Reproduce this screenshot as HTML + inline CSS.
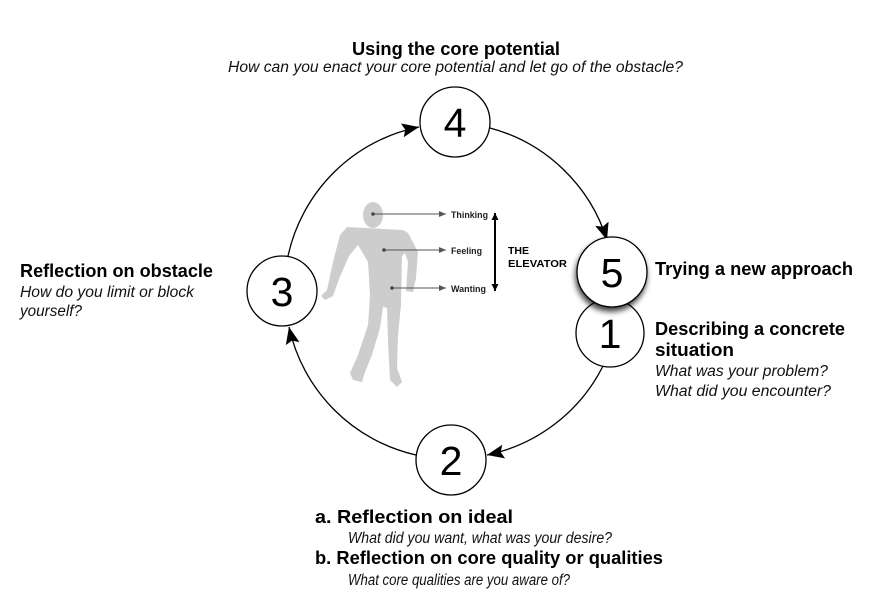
<!DOCTYPE html>
<html>
<head>
<meta charset="utf-8">
<style>
html,body{margin:0;padding:0;background:#fff;}
body{width:893px;height:604px;overflow:hidden;}
svg{display:block;}
text{font-family:"Liberation Sans",Arial,sans-serif;fill:#000;}
.b{font-weight:bold;font-size:18px;}
.i{font-style:italic;font-size:15.5px;fill:#111;}
.n{font-size:41px;}
.s{font-size:9.5px;font-weight:bold;fill:#222;}
.e{font-size:10px;font-weight:bold;fill:#000;}
</style>
</head>
<body>
<svg width="893" height="604" viewBox="0 0 893 604" xmlns="http://www.w3.org/2000/svg">
<defs>
<marker id="ah" markerUnits="userSpaceOnUse" markerWidth="20" markerHeight="16" refX="17" refY="7" orient="auto">
<path d="M0,0 L17,7 L0,14 L3,7 z" fill="#000"/>
</marker>
<marker id="sa" markerUnits="userSpaceOnUse" markerWidth="8" markerHeight="6" refX="7" refY="3" orient="auto">
<path d="M0,0 L7,3 L0,6 z" fill="#555"/>
</marker>
<marker id="ea" markerUnits="userSpaceOnUse" markerWidth="8" markerHeight="10" refX="7" refY="3.5" orient="auto">
<path d="M0,0 L7,3.5 L0,7 z" fill="#000"/>
</marker>
<filter id="sh" x="-40%" y="-40%" width="180%" height="180%">
<feDropShadow dx="-1" dy="4" stdDeviation="3" flood-color="#000" flood-opacity="0.75"/>
</filter>
</defs>

<!-- Arcs -->
<g fill="none" stroke="#000" stroke-width="1.3">
<path d="M288,256 A168,168 0 0 1 419,127" marker-end="url(#ah)"/>
<path d="M490,128 A168,168 0 0 1 607,240" marker-end="url(#ah)"/>
<path d="M603,366 A168,168 0 0 1 487,455" marker-end="url(#ah)"/>
<path d="M416,455 A168,168 0 0 1 289,327" marker-end="url(#ah)"/>
</g>

<!-- Figure -->
<g fill="#cdcdcd">
<ellipse cx="373" cy="215" rx="10" ry="13"/>
<path d="M347,227 L403,230 L408,233 L418,252 L416,278 L413,292 L406,291 L408,262 L405,253 L402,256 L401,305 L398,335 L397,368 L402,382 L397,387 L390,380 L388,342 L387,308 L383,307 L380,328 L372,355 L365,372 L362,382 L353,380 L350,373 L358,355 L368,325 L370,295 L368,262 L358,245 L349,256 L339,279 L333,296 L325,300 L321,296 L327,290 L333,262 L340,235 Z"/>
</g>
<g stroke="#555" stroke-width="1" fill="none">
<line x1="373" y1="214" x2="446" y2="214" marker-end="url(#sa)"/>
<line x1="384" y1="250" x2="446" y2="250" marker-end="url(#sa)"/>
<line x1="392" y1="288" x2="446" y2="288" marker-end="url(#sa)"/>
</g>
<g fill="#444">
<circle cx="373" cy="214" r="1.8"/>
<circle cx="384" cy="250" r="1.8"/>
<circle cx="392" cy="288" r="1.8"/>
</g>
<text class="s" x="451" y="218" textLength="37" lengthAdjust="spacingAndGlyphs">Thinking</text>
<text class="s" x="451" y="254" textLength="31" lengthAdjust="spacingAndGlyphs">Feeling</text>
<text class="s" x="451" y="292" textLength="35" lengthAdjust="spacingAndGlyphs">Wanting</text>
<line x1="495" y1="252" x2="495" y2="213" stroke="#000" stroke-width="2" marker-end="url(#ea)"/>
<line x1="495" y1="252" x2="495" y2="291" stroke="#000" stroke-width="2" marker-end="url(#ea)"/>
<text class="e" x="508" y="254" textLength="21" lengthAdjust="spacingAndGlyphs">THE</text>
<text class="e" x="508" y="267" textLength="59" lengthAdjust="spacingAndGlyphs">ELEVATOR</text>

<!-- Nodes -->
<g fill="#fff" stroke="#000" stroke-width="1.3">
<circle cx="455" cy="122" r="35"/>
<circle cx="282" cy="291" r="35"/>
<circle cx="451" cy="460" r="35"/>
<circle cx="610" cy="333" r="34"/>
<circle cx="612" cy="272" r="35" filter="url(#sh)"/>
</g>
<g text-anchor="middle">
<text class="n" x="455" y="137">4</text>
<text class="n" x="282" y="306">3</text>
<text class="n" x="451" y="475">2</text>
<text class="n" x="610" y="348">1</text>
<text class="n" x="612" y="287">5</text>
</g>

<!-- Labels -->
<text class="b" x="352" y="55" textLength="208" lengthAdjust="spacingAndGlyphs">Using the core potential</text>
<text class="i" x="228" y="72" textLength="455" lengthAdjust="spacingAndGlyphs">How can you enact your core potential and let go of the obstacle?</text>

<text class="b" x="20" y="277" textLength="193" lengthAdjust="spacingAndGlyphs">Reflection on obstacle</text>
<text class="i" x="20" y="297" textLength="174" lengthAdjust="spacingAndGlyphs">How do you limit or block</text>
<text class="i" x="20" y="316" textLength="62" lengthAdjust="spacingAndGlyphs">yourself?</text>

<text class="b" x="655" y="275" textLength="198" lengthAdjust="spacingAndGlyphs">Trying a new approach</text>
<text class="b" x="655" y="335" textLength="190" lengthAdjust="spacingAndGlyphs">Describing a concrete</text>
<text class="b" x="655" y="356" textLength="79" lengthAdjust="spacingAndGlyphs">situation</text>
<text class="i" x="655" y="376" textLength="173" lengthAdjust="spacingAndGlyphs">What was your problem?</text>
<text class="i" x="655" y="396" textLength="176" lengthAdjust="spacingAndGlyphs">What did you encounter?</text>

<text class="b" x="315" y="523" textLength="198" lengthAdjust="spacingAndGlyphs">a. Reflection on ideal</text>
<text class="i" x="348" y="543" textLength="264" lengthAdjust="spacingAndGlyphs">What did you want, what was your desire?</text>
<text class="b" x="315" y="564" textLength="348" lengthAdjust="spacingAndGlyphs">b. Reflection on core quality or qualities</text>
<text class="i" x="348" y="585" textLength="222" lengthAdjust="spacingAndGlyphs">What core qualities are you aware of?</text>
</svg>
</body>
</html>
